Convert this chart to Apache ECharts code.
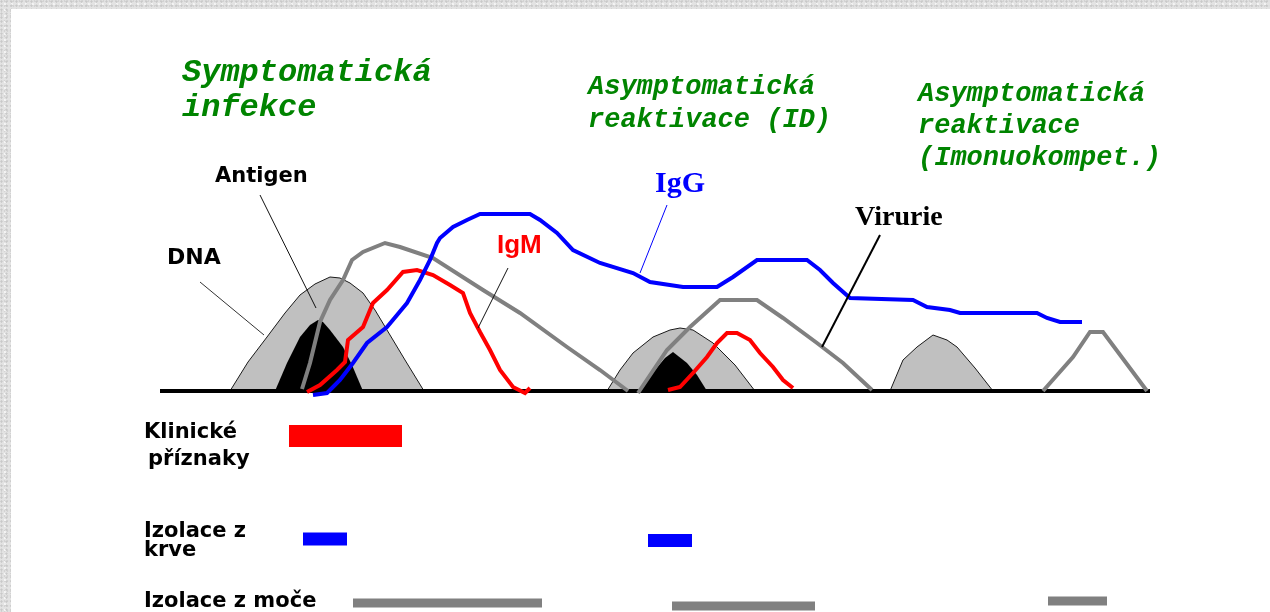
<!DOCTYPE html>
<html>
<head>
<meta charset="utf-8">
<script src="https://cdn.jsdelivr.net/npm/echarts@6/dist/echarts.min.js"></script>
<style>
  html, body { margin: 0; padding: 0; }
  body {
    width: 1270px; height: 612px; overflow: hidden; position: relative;
    background-color: #e3e3e3;
    background-image:
      radial-gradient(circle at 30% 40%, #c9c9c9 0.8px, transparent 1.4px),
      radial-gradient(circle at 70% 70%, #f4f4f4 0.8px, transparent 1.4px),
      radial-gradient(circle at 50% 20%, #d2d2d2 0.6px, transparent 1.2px);
    background-size: 5px 4px, 7px 6px, 3px 5px;
  }
  #panel { position: absolute; left: 11px; top: 9px; right: 0; bottom: 0; background: #fff; }
  #chart { position: absolute; left: 0; top: 0; width: 1270px; height: 612px; }
</style>
</head>
<body>
<div id="panel"></div>
<div id="chart"></div>
<script>
// x = time position, y = level above the baseline (0)
const dnaHill1 = [[230,0],[248,29],[267,54],[285,78],[300,96],[315,107],[330,114],[340,113],[350,108],[363,98],[375,81],[387,61],[405,31],[424,0]];
const antigen1 = [[275,0],[287,28],[300,54],[310,66],[318,71],[323,69],[330,61],[343,44],[352,26],[363,0]];
const dnaHill2 = [[607,0],[620,21],[633,38],[653,54],[670,61],[680,63],[693,61],[713,48],[735,26],[755,0]];
const antigen2 = [[640,0],[655,21],[665,33],[673,39],[687,28],[697,16],[707,0]];
const dnaHill3 = [[890,0],[903,31],[917,44],[933,56],[947,51],[957,44],[975,23],[993,0]];

const viruria1 = [[302,2],[310,28],[320,69],[330,91],[343,111],[352,131],[363,139],[385,148],[400,144],[433,133],[483,101],[520,78],[567,44],[600,21],[628,0]];
const viruria2 = [[638,-2],[667,41],[690,64],[720,91],[757,91],[783,73],[817,48],[843,28],[872,1]];
const viruria3 = [[1043,0],[1073,34],[1090,59],[1103,59],[1147,0]];

const igm1 = [[307,-1],[320,6],[337,21],[345,29],[348,51],[363,64],[373,88],[387,101],[403,119],[417,121],[433,116],[450,106],[463,98],[470,78],[480,59],[490,41],[500,21],[513,4],[525,-2],[530,3]];
const igm2 = [[668,1],[680,4],[693,18],[707,34],[717,48],[727,58],[737,58],[750,51],[760,38],[773,24],[783,11],[793,3]];

const igg = [[313,-4],[327,-2],[340,11],[353,28],[367,48],[387,64],[407,88],[420,111],[430,131],[437,148],[440,153],[453,164],[467,171],[480,177],[530,177],[540,171],[557,158],[573,141],[600,128],[633,118],[650,109],[683,104],[717,104],[733,114],[757,131],[807,131],[820,121],[833,108],[850,93],[913,91],[927,84],[950,81],[960,78],[1037,78],[1047,73],[1060,69],[1082,69]];

const timeAxisLine = [[160,0],[1150,0]];

// leader lines of the curve labels: [from, to]
const leaderDNA = [[200,109],[264,56]];
const leaderAntigen = [[260,196],[316,83]];
const leaderIgM = [[508,123],[478,63]];
const leaderIgG = [[667,186],[640,118]];
const leaderViruria = [[880,156],[822,44]];

// periods: [start, end, row level]
const clinicalSymptoms = [[289,402,-45]];
const bloodIsolation = [[303,347,-148],[648,692,-149.5]];
const urineIsolation = [[353,542,-212],[672,815,-215],[1048,1107,-210]];

const phaseTitles = [
  ['Symptomatická', 'infekce'],
  ['Asymptomatická', 'reaktivace (ID)'],
  ['Asymptomatická', 'reaktivace', '(Imonuokompet.)']
];
const curveLabels = ['Antigen', 'DNA', 'IgG', 'IgM', 'Virurie'];
const rowLabels = [['Klinické', 'příznaky'], ['Izolace z', 'krve'], ['Izolace z moče']];

const GREEN = '#008400';
const chart = echarts.init(document.getElementById('chart'), null, { renderer: 'canvas' });

function hill(data, color, z, outline) {
  return {
    type: 'line', data: data, showSymbol: false, silent: true, z: z, animation: false,
    lineStyle: outline ? { color: '#1a1a1a', width: 1 } : { width: 0, color: color },
    areaStyle: { color: color, opacity: 1 }
  };
}
function curve(data, color, width, z) {
  return {
    type: 'line', data: data, showSymbol: false, silent: true, z: z, animation: false,
    lineStyle: { color: color, width: width, join: 'miter', cap: 'butt' }
  };
}
function periods(data, color, thickness) {
  return {
    type: 'custom', data: data, silent: true, z: 10, animation: false,
    encode: { x: [0, 1], y: 2 },
    renderItem: function (params, api) {
      const s = api.coord([api.value(0), api.value(2)]);
      const e = api.coord([api.value(1), api.value(2)]);
      return { type: 'rect', shape: { x: s[0], y: s[1] - thickness / 2, width: e[0] - s[0], height: thickness }, style: { fill: color } };
    }
  };
}
function txt(text, x, y, font, color) {
  return { type: 'text', x: x, y: y, silent: true, z: 100,
    style: { text: text, font: font, fill: color, align: 'left', verticalAlign: 'middle' } };
}

const monoBig = 'italic bold 32px "Liberation Mono", "DejaVu Sans Mono", monospace';
const monoSmall = 'italic bold 27px "Liberation Mono", "DejaVu Sans Mono", monospace';
const sansBold = 'bold 21px "DejaVu Sans", sans-serif';

const graphics = [
  txt(phaseTitles[0][0], 182, 73, monoBig, GREEN),
  txt(phaseTitles[0][1], 182, 108, monoBig, GREEN),
  txt(phaseTitles[1][0], 588, 87, monoSmall, GREEN),
  txt(phaseTitles[1][1], 588, 120, monoSmall, GREEN),
  txt(phaseTitles[2][0], 918, 94, monoSmall, GREEN),
  txt(phaseTitles[2][1], 918, 126, monoSmall, GREEN),
  txt(phaseTitles[2][2], 918, 158, monoSmall, GREEN),
  txt(curveLabels[0], 215, 177, sansBold, '#000'),
  txt(curveLabels[1], 167, 258, 'bold 22px "DejaVu Sans", sans-serif', '#000'),
  txt(curveLabels[2], 655, 184, 'bold 30px "Liberation Serif", serif', '#0000ff'),
  txt(curveLabels[3], 497, 246, 'bold 26px "Liberation Sans", sans-serif', '#ff0000'),
  txt(curveLabels[4], 855, 218, 'bold 28px "Liberation Serif", serif', '#000'),
  txt(rowLabels[0][0], 144, 433, sansBold, '#000'),
  txt(rowLabels[0][1], 148, 460, sansBold, '#000'),
  txt(rowLabels[1][0], 144, 532, sansBold, '#000'),
  txt(rowLabels[1][1], 144, 551, sansBold, '#000'),
  txt(rowLabels[2][0], 144, 602, sansBold, '#000')
];

chart.setOption({
  animation: false,
  backgroundColor: 'transparent',
  grid: { left: 0, top: 0, width: 1270, height: 612, show: false },
  xAxis: { type: 'value', min: 0, max: 1270, show: false, splitLine: { show: false } },
  yAxis: { type: 'value', min: -221, max: 391, show: false, splitLine: { show: false } },
  graphic: graphics,
  series: [
    hill(dnaHill1, '#c0c0c0', 1, true),
    hill(dnaHill2, '#c0c0c0', 1, true),
    hill(dnaHill3, '#c0c0c0', 1, true),
    hill(antigen1, '#000000', 2, false),
    hill(antigen2, '#000000', 2, false),
    curve(timeAxisLine, '#000000', 4, 3),
    curve(viruria1, '#808080', 4, 4),
    curve(viruria2, '#808080', 4, 4),
    curve(viruria3, '#808080', 4, 4),
    curve(igm1, '#ff0000', 4, 5),
    curve(igm2, '#ff0000', 4, 5),
    curve(igg, '#0000ff', 4, 6),
    curve(leaderDNA, '#333333', 1, 7),
    curve(leaderAntigen, '#111111', 1, 7),
    curve(leaderIgM, '#111111', 1, 7),
    curve(leaderIgG, '#0000ff', 1, 7),
    curve(leaderViruria, '#000000', 2, 7),
    periods(clinicalSymptoms, '#ff0000', 22),
    periods(bloodIsolation, '#0000ff', 13),
    periods(urineIsolation, '#808080', 9)
  ]
});
</script>
</body>
</html>
